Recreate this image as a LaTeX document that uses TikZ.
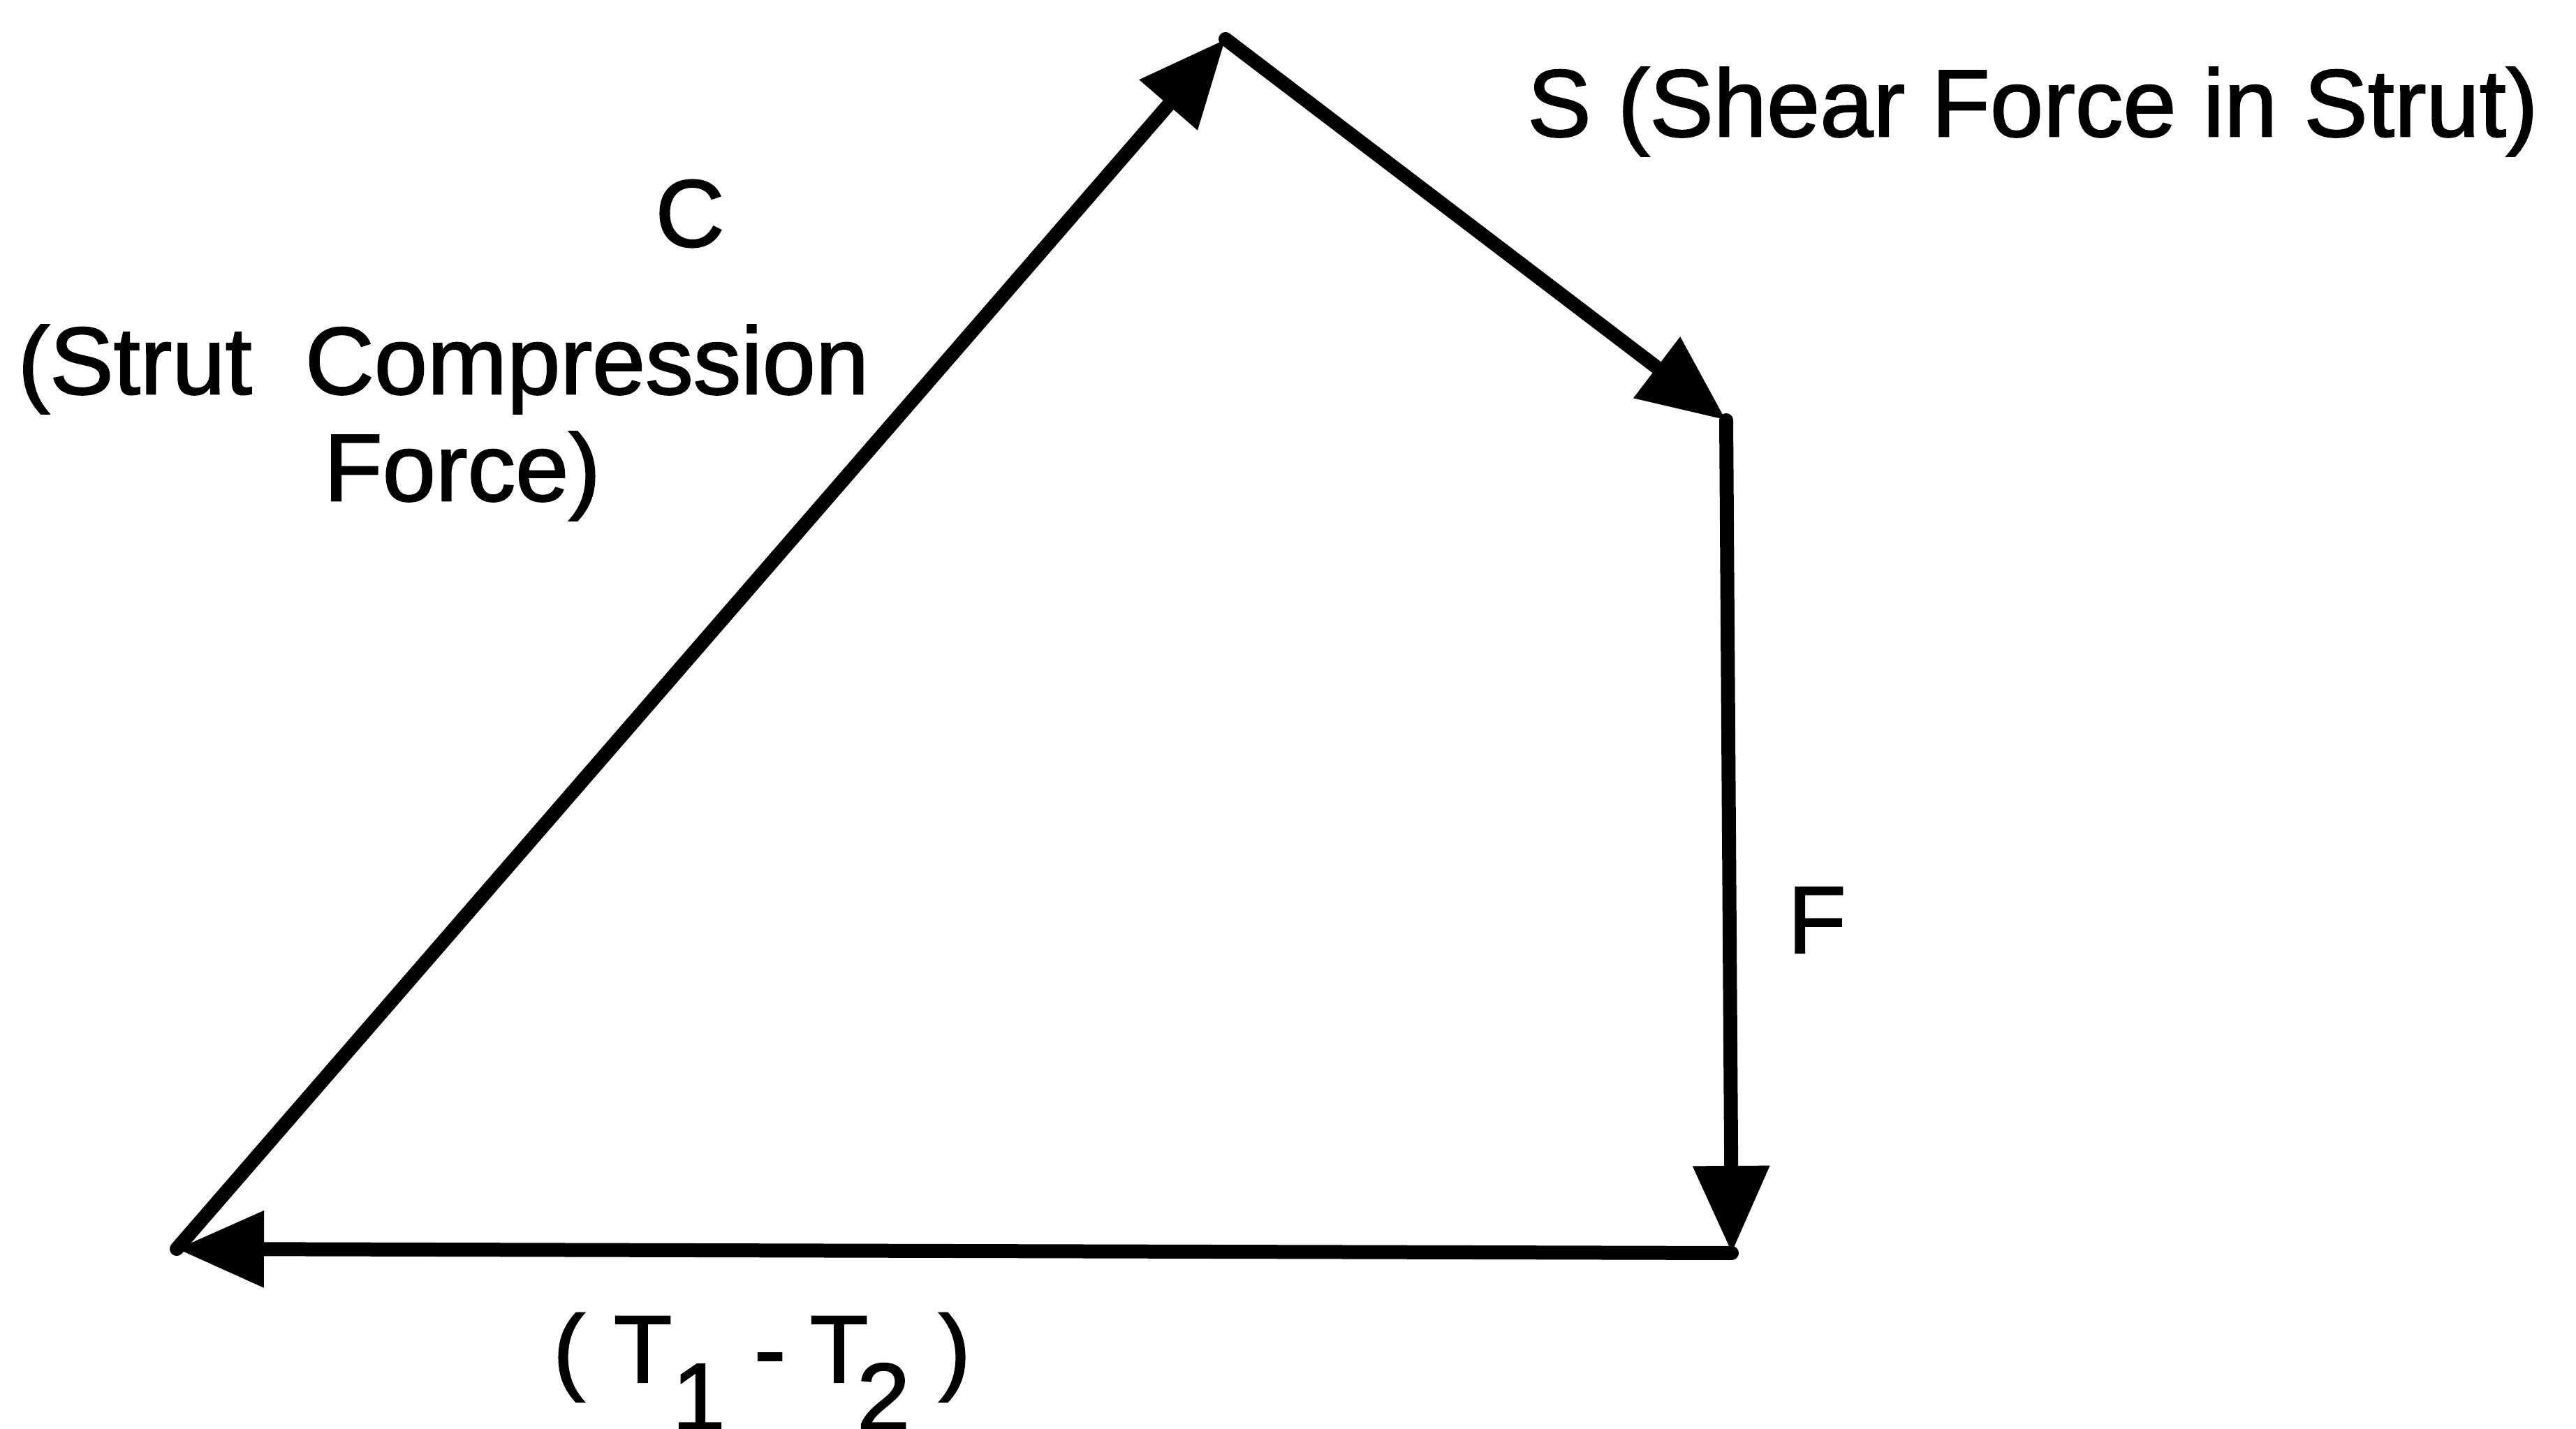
\documentclass[tikz,border=0pt]{standalone}
\usepackage{fontspec}
\setmainfont[FakeBold=1.5]{Liberation Sans}
\usetikzlibrary{arrows.meta}
\begin{document}
\begin{tikzpicture}[
  vec/.style={line width=0.2cm, line cap=round, -{Triangle[length=1.25cm,width=1.05cm]}},
  lbl/.style={font=\fontsize{39}{47}\selectfont, inner sep=0pt}
]
\useasboundingbox (0,0) rectangle (36.89,20.46);
\fill[white] (0,0) rectangle (36.89,20.46);
\coordinate (A) at (17.55,19.90);
\coordinate (B) at (24.72,14.44);
\coordinate (D) at (24.80,2.51);
\coordinate (E) at (2.53,2.57);
\draw[vec] (E) -- (A);
\draw[vec] (A) -- (B);
\draw[vec] (B) -- (D);
\draw[vec] (D) -- (E);
\node[lbl] (lc) at (9.88,17.40) {C};
\node[lbl] (lca) at (6.35,15.17) {(Strut\ \ Compression};
\node[lbl] (lcb) at (6.62,13.64) {Force)};
\node[lbl] (ls) at (29.11,18.86) {S (Shear Force in Strut)};
\node[lbl] (lf) at (26.02,7.28) {F};
\node[lbl, anchor=base] (lt) at (10.91,0.66) {(\hspace{0.3em}T\raisebox{-0.5em}{1}\hspace{0.3em}-\hspace{0.25em}T\kern-0.12em\raisebox{-0.5em}{2}\hspace{0.3em})};
\end{tikzpicture}
\end{document}
